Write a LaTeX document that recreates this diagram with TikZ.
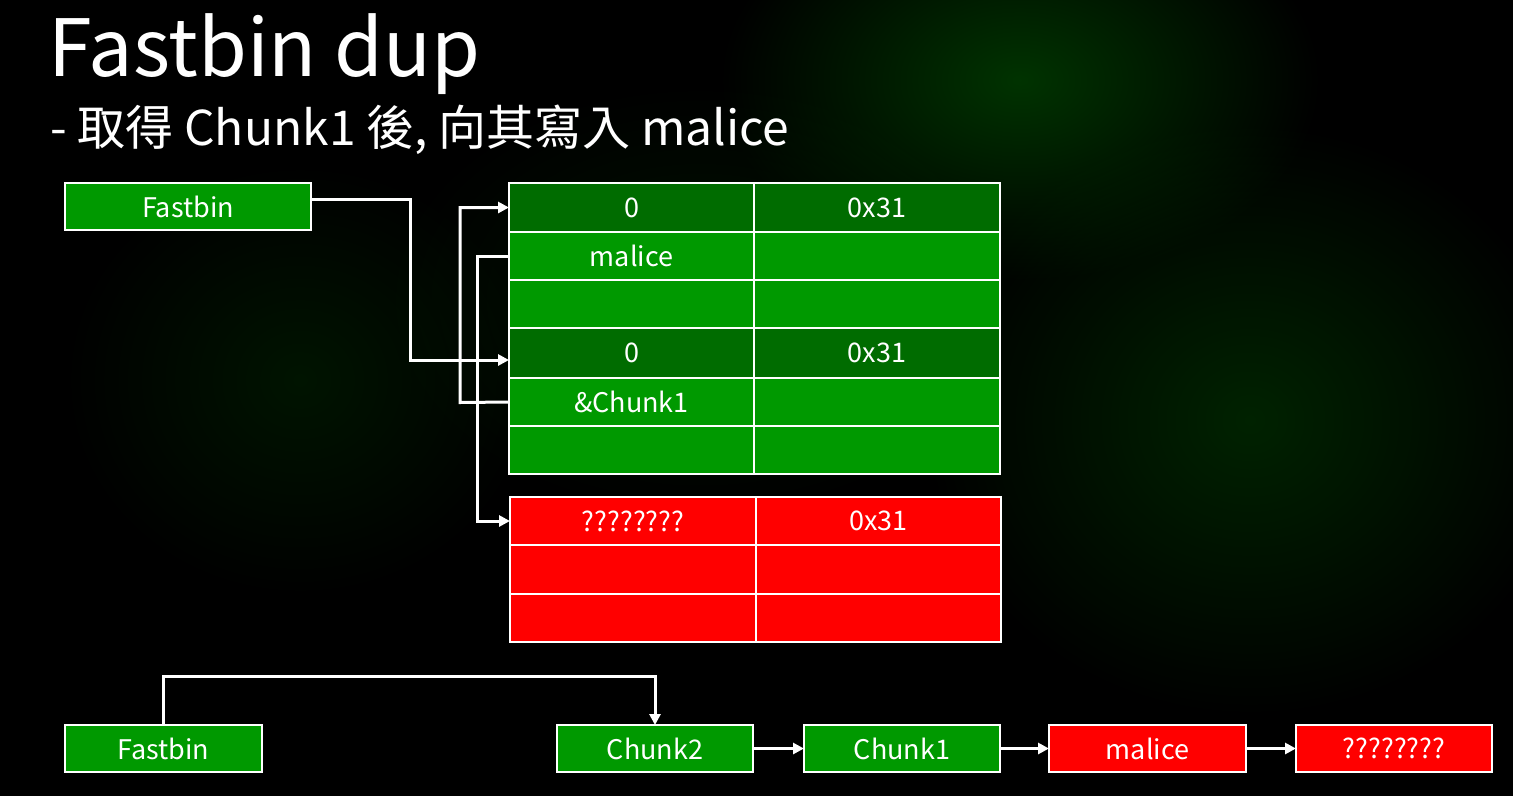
\documentclass[tikz,border=0pt]{standalone}
\usepackage{fontspec}
\setmainfont{Noto Sans CJK TC}
\usetikzlibrary{arrows.meta,fadings}
\tikzfading[name=softglow, inner color=transparent!0, outer color=transparent!100]
\definecolor{gdark}{RGB}{0,108,0}
\definecolor{glight}{RGB}{0,153,0}
\definecolor{rbox}{RGB}{255,0,0}
\tikzset{
  cellbase/.style={draw=white, line width=1.3pt, text=white, inner sep=0pt, outer sep=0pt, anchor=north west, font=\fontsize{27}{30}\selectfont},
  gd/.style={cellbase, fill=gdark},
  gl/.style={cellbase, fill=glight},
  rd/.style={cellbase, fill=rbox},
  conn/.style={draw=white, line width=3pt, -{Triangle[length=11pt,width=11pt]}},
  glow/.style={path fading=softglow}
}
\begin{document}
\begin{tikzpicture}[x=1pt,y=-1pt]
\useasboundingbox (0,0) rectangle (1513,796);
\fill[black] (0,0) rectangle (1513,796);
% faint green background glow
\fill[green!50!black, opacity=0.4, glow] (1020,80) ellipse (300pt and 200pt);
\fill[green!45!black, opacity=0.3, glow] (1250,420) ellipse (330pt and 300pt);
\fill[green!40!black, opacity=0.2, glow] (300,380) ellipse (240pt and 220pt);
\fill[green!40!black, opacity=0.18, glow] (700,300) ellipse (320pt and 220pt);

% title
\node[anchor=base west, text=white, inner sep=0pt, font=\fontsize{79}{90}\selectfont] (title) at (48,76) {Fastbin dup};
\node[anchor=base west, text=white, inner sep=0pt, font=\fontsize{48}{52}\selectfont] (sub) at (50,145) {- 取得 Chunk1 後, 向其寫入 malice};

% top fastbin
\node[gl, minimum width=246pt, minimum height=47pt] (fb1) at (65,183) {Fastbin};

% green table
\node[gd, minimum width=245pt, minimum height=49pt] (g0a) at (509,183) {0};
\node[gd, minimum width=246pt, minimum height=49pt] (g0b) at (754,183) {0x31};
\node[gl, minimum width=245pt, minimum height=48pt] (g1a) at (509,232) {malice};
\node[gl, minimum width=246pt, minimum height=48pt] (g1b) at (754,232) {};
\node[gl, minimum width=245pt, minimum height=48pt] (g2a) at (509,280) {};
\node[gl, minimum width=246pt, minimum height=48pt] (g2b) at (754,280) {};
\node[gd, minimum width=245pt, minimum height=50pt] (g3a) at (509,328) {0};
\node[gd, minimum width=246pt, minimum height=50pt] (g3b) at (754,328) {0x31};
\node[gl, minimum width=245pt, minimum height=48pt] (g4a) at (509,378) {\&Chunk1};
\node[gl, minimum width=246pt, minimum height=48pt] (g4b) at (754,378) {};
\node[gl, minimum width=245pt, minimum height=48pt] (g5a) at (509,426) {};
\node[gl, minimum width=246pt, minimum height=48pt] (g5b) at (754,426) {};

% red table
\node[rd, minimum width=246pt, minimum height=48pt] (r0a) at (510,497) {????????};
\node[rd, minimum width=245pt, minimum height=48pt] (r0b) at (756,497) {0x31};
\node[rd, minimum width=246pt, minimum height=49pt] (r1a) at (510,545) {};
\node[rd, minimum width=245pt, minimum height=49pt] (r1b) at (756,545) {};
\node[rd, minimum width=246pt, minimum height=48pt] (r2a) at (510,594) {};
\node[rd, minimum width=245pt, minimum height=48pt] (r2b) at (756,594) {};

% connectors in table
\draw[conn] ([yshift=7.5pt]fb1.east) -- (410,199) |- ([yshift=-7pt]g3a.west);
\draw[conn] (g4a.west) -- (460,402.5) |- (g0a.west);
\draw[conn] (g1a.west) -- (477,256) |- (r0a.west);

% bottom list
\node[gl, minimum width=197pt, minimum height=47pt] (bfb) at (65,725) {Fastbin};
\node[gl, minimum width=196pt, minimum height=47pt] (c2) at (557,725) {Chunk2};
\node[gl, minimum width=196pt, minimum height=47pt] (c1) at (804,725) {Chunk1};
\node[rd, minimum width=197pt, minimum height=47pt] (ml) at (1049,725) {malice};
\node[rd, minimum width=196pt, minimum height=47pt] (qq) at (1296,725) {????????};

\draw[conn] (bfb.north) -- (163.5,676) -| (c2.north);
\draw[conn] (c2) -- (c1);
\draw[conn] (c1) -- (ml);
\draw[conn] (ml) -- (qq);
\end{tikzpicture}
\end{document}
